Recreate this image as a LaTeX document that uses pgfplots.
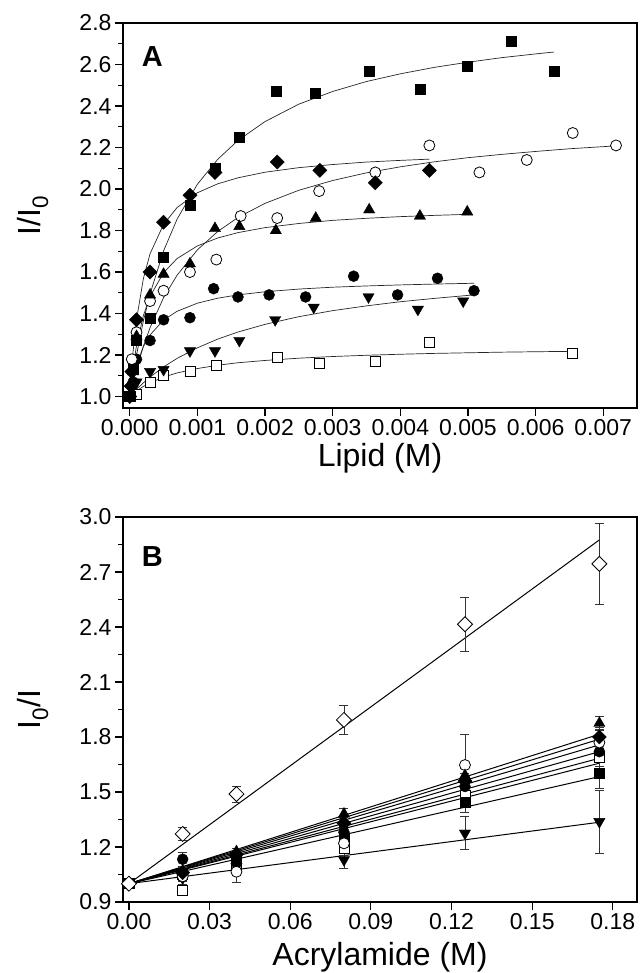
\documentclass[border=0pt]{standalone}
\usepackage{fontspec}
\setmainfont{Liberation Sans}
\usepackage{pgfplots}
\pgfplotsset{compat=1.18}

\pgfplotsset{
  common/.style={
    width=514pt, height=385pt, scale only axis,
    axis line style={line width=1.5pt},
    tick style={line width=1.2pt, black},
    tick align=outside,
    major tick length=8pt, minor tick length=5pt,
    xtick pos=bottom, ytick pos=left,
    ticklabel style={font=\fontsize{23}{27}\selectfont},
    label style={font=\fontsize{32}{38}\selectfont},
    /pgf/number format/assume math mode=true,
    scaled x ticks=false, scaled y ticks=false,
    clip=false,
  },
  fit/.style={no marks, line width=0.7pt, black!85},
  bfit/.style={no marks, line width=1pt, black},
  fsq/.style={only marks, mark=square*, mark size=5pt, mark options={fill=black, draw=black}},
  osq/.style={only marks, mark=square*, mark size=5pt, mark options={fill=white, draw=black, line width=0.8pt}},
  fdi/.style={only marks, mark=square*, mark size=5pt, mark options={fill=black, draw=black, rotate=45}},
  odi/.style={only marks, mark=square*, mark size=5.3pt, mark options={fill=white, draw=black, line width=0.8pt, rotate=45}},
  fci/.style={only marks, mark=*, mark size=5.5pt, mark options={fill=black, draw=black}},
  oci/.style={only marks, mark=*, mark size=5.5pt, mark options={fill=white, draw=black, line width=0.8pt}},
  ftu/.style={only marks, mark=triangle*, mark size=6.5pt, mark options={fill=black, draw=black}},
  ftd/.style={only marks, mark=triangle*, mark size=6.5pt, mark options={fill=black, draw=black, rotate=180}},
  eb/.style={error bars/.cd, y dir=both, y explicit,
    error bar style={line width=0.7pt, black!80},
    error mark options={rotate=90, mark size=4.5pt, line width=0.7pt, black!80}},
}

\begin{document}
\begin{tikzpicture}
\path[use as bounding box] (0,0) rectangle (639pt,973pt);

% ---------------- Panel A ----------------
\begin{axis}[common,
  at={(123pt,565pt)}, anchor=south west,
  xmin=-0.0001, xmax=0.0075, ymin=0.945, ymax=2.8,
  xtick={0,0.001,...,0.0071},
  ytick={1.0,1.2,...,2.81},
  minor y tick num=1,
  xticklabel style={/pgf/number format/.cd, fixed, fixed zerofill, precision=3},
  yticklabel style={/pgf/number format/.cd, fixed, fixed zerofill, precision=1},
  xlabel={Lipid (M)}, ylabel={I/I\textsubscript{0}},
  xlabel style={at={(axis description cs:0.5,-0.13)}, anchor=center},
  ylabel style={at={(axis description cs:-0.175,0.5)}, anchor=center},
]
\node[font=\bfseries\fontsize{29}{33}\selectfont] at (axis description cs:0.057,0.912) {A};

% fit curves
\addplot[fit] coordinates {(0,1) (0.00005,1.106) (0.0001,1.200) (0.0002,1.362) (0.0003,1.495) (0.0005,1.702) (0.0007,1.855) (0.001,2.023) (0.0013,2.143) (0.0016,2.234) (0.002,2.325) (0.0025,2.409) (0.003,2.470) (0.0035,2.518) (0.004,2.555) (0.0045,2.586) (0.005,2.611) (0.0055,2.633) (0.006,2.651) (0.00627,2.660)};
\addplot[fit] coordinates {(0,1) (0.00005,1.219) (0.0001,1.371) (0.0002,1.567) (0.0003,1.688) (0.0005,1.830) (0.0007,1.911) (0.001,1.982) (0.0013,2.025) (0.0016,2.054) (0.002,2.081) (0.0025,2.103) (0.003,2.118) (0.0035,2.130) (0.004,2.138) (0.00443,2.144)};
\addplot[fit] coordinates {(0,1) (0.00005,1.070) (0.0001,1.132) (0.0002,1.241) (0.0003,1.332) (0.0005,1.477) (0.0007,1.585) (0.001,1.707) (0.0013,1.795) (0.0016,1.863) (0.002,1.931) (0.0025,1.994) (0.003,2.041) (0.0035,2.078) (0.004,2.107) (0.0045,2.131) (0.005,2.151) (0.0055,2.167) (0.006,2.181) (0.0065,2.194) (0.00719,2.208)};
\addplot[fit] coordinates {(0,1) (0.00005,1.142) (0.0001,1.246) (0.0002,1.389) (0.0003,1.483) (0.0005,1.597) (0.0007,1.665) (0.001,1.726) (0.0013,1.764) (0.0016,1.790) (0.002,1.814) (0.0025,1.834) (0.003,1.849) (0.0035,1.859) (0.004,1.867) (0.0045,1.873) (0.00499,1.878)};
\addplot[fit] coordinates {(0,1) (0.00005,1.087) (0.0001,1.151) (0.0002,1.240) (0.0003,1.297) (0.0005,1.369) (0.0007,1.411) (0.001,1.450) (0.0013,1.474) (0.0016,1.490) (0.002,1.505) (0.0025,1.518) (0.003,1.527) (0.0035,1.533) (0.004,1.538) (0.0045,1.542) (0.00509,1.546)};
\addplot[fit] coordinates {(0,1) (0.00005,1.018) (0.0001,1.035) (0.0002,1.066) (0.0003,1.094) (0.0005,1.143) (0.0007,1.184) (0.001,1.235) (0.0013,1.277) (0.0016,1.311) (0.002,1.348) (0.0025,1.385) (0.003,1.414) (0.0035,1.437) (0.004,1.457) (0.0045,1.473) (0.00509,1.490)};
\addplot[fit] coordinates {(0,1) (0.00005,1.014) (0.0001,1.027) (0.0002,1.049) (0.0003,1.066) (0.0005,1.094) (0.0007,1.114) (0.001,1.135) (0.0013,1.151) (0.0016,1.163) (0.002,1.174) (0.0025,1.185) (0.003,1.193) (0.0035,1.199) (0.004,1.204) (0.0045,1.208) (0.005,1.211) (0.0055,1.214) (0.006,1.216) (0.00655,1.218)};

% data
\addplot[osq] coordinates {(0,1.0) (0.0001,1.01) (0.0003,1.07) (0.0005,1.10) (0.00089,1.12) (0.00128,1.15) (0.00218,1.19) (0.00281,1.16) (0.00363,1.17) (0.00443,1.26) (0.00655,1.21)};
\addplot[ftd] coordinates {(0,1.0) (0.00005,1.05) (0.0001,1.07) (0.0003,1.12) (0.0005,1.13) (0.00089,1.22) (0.00126,1.22) (0.00162,1.27) (0.00215,1.37) (0.00272,1.43) (0.00353,1.48) (0.00426,1.42) (0.00493,1.46)};
\addplot[fci] coordinates {(0,1.0) (0.00005,1.07) (0.0001,1.18) (0.0003,1.27) (0.0005,1.37) (0.00089,1.38) (0.00124,1.52) (0.0016,1.48) (0.00206,1.49) (0.0026,1.48) (0.00331,1.58) (0.00396,1.49) (0.00455,1.57) (0.00509,1.51)};
\addplot[oci] coordinates {(0,1.0) (0.00003,1.18) (0.0001,1.31) (0.0003,1.46) (0.0005,1.51) (0.00089,1.60) (0.00128,1.66) (0.00164,1.87) (0.00218,1.86) (0.0028,1.99) (0.00363,2.08) (0.00443,2.21) (0.00517,2.08) (0.00587,2.14) (0.00655,2.27) (0.00719,2.21)};
\addplot[ftu] coordinates {(0,1.0) (0.00005,1.12) (0.0001,1.29) (0.0003,1.49) (0.0005,1.59) (0.00089,1.64) (0.00126,1.81) (0.00162,1.82) (0.00216,1.80) (0.00275,1.86) (0.00354,1.90) (0.00429,1.87) (0.00499,1.89)};
\addplot[fsq] coordinates {(0,1.0) (0.00005,1.13) (0.0001,1.27) (0.0003,1.38) (0.0005,1.67) (0.00089,1.92) (0.00126,2.10) (0.00162,2.25) (0.00216,2.47) (0.00274,2.46) (0.00354,2.57) (0.00429,2.48) (0.00499,2.59) (0.00564,2.71) (0.00627,2.57)};
\addplot[fdi] coordinates {(0,1.0) (0.00002,1.05) (0.00003,1.12) (0.0001,1.37) (0.0003,1.60) (0.0005,1.84) (0.00089,1.97) (0.00126,2.08) (0.00218,2.13) (0.00281,2.09) (0.00363,2.03) (0.00443,2.09)};
\end{axis}

% ---------------- Panel B ----------------
\begin{axis}[common,
  at={(123pt,71pt)}, anchor=south west,
  xmin=-0.0022, xmax=0.189, ymin=0.9, ymax=3.0,
  xtick={0,0.03,...,0.181},
  ytick={0.9,1.2,...,3.01},
  minor y tick num=1,
  xticklabel style={/pgf/number format/.cd, fixed, fixed zerofill, precision=2},
  yticklabel style={/pgf/number format/.cd, fixed, fixed zerofill, precision=1},
  xlabel={Acrylamide (M)}, ylabel={I\textsubscript{0}/I},
  xlabel style={at={(axis description cs:0.5,-0.143)}, anchor=center},
  ylabel style={at={(axis description cs:-0.175,0.5)}, anchor=center},
]
\node[font=\bfseries\fontsize{29}{33}\selectfont] at (axis description cs:0.057,0.898) {B};

% fit lines
\addplot[bfit] coordinates {(0,1) (0.175,2.875)};
\addplot[bfit] coordinates {(0,1) (0.175,1.815)};
\addplot[bfit] coordinates {(0,1) (0.175,1.788)};
\addplot[bfit] coordinates {(0,1) (0.175,1.757)};
\addplot[bfit] coordinates {(0,1) (0.175,1.720)};
\addplot[bfit] coordinates {(0,1) (0.175,1.684)};
\addplot[bfit] coordinates {(0,1) (0.175,1.657)};
\addplot[bfit] coordinates {(0,1) (0.175,1.584)};
\addplot[bfit] coordinates {(0,1) (0.175,1.335)};

% data with error bars
\addplot[osq, eb] coordinates {(0,1.0) +- (0,0.01) (0.02,0.965) +- (0,0.03) (0.04,1.10) +- (0,0.03) (0.08,1.195) +- (0,0.04) (0.125,1.484) +- (0,0.05) (0.175,1.69) +- (0,0.05)};
\addplot[ftd, eb] coordinates {(0,1.0) +- (0,0.01) (0.02,1.03) +- (0,0.02) (0.04,1.093) +- (0,0.03) (0.08,1.13) +- (0,0.045) (0.125,1.275) +- (0,0.09) (0.175,1.338) +- (0,0.17)};
\addplot[fsq, eb] coordinates {(0,1.0) +- (0,0.01) (0.02,1.05) +- (0,0.02) (0.04,1.13) +- (0,0.03) (0.08,1.25) +- (0,0.03) (0.125,1.447) +- (0,0.06) (0.175,1.602) +- (0,0.08)};
\addplot[fci, eb] coordinates {(0,1.0) +- (0,0.01) (0.02,1.133) +- (0,0.04) (0.04,1.15) +- (0,0.02) (0.08,1.28) +- (0,0.03) (0.125,1.53) +- (0,0.04) (0.175,1.72) +- (0,0.05)};
\addplot[oci, eb] coordinates {(0,1.0) +- (0,0.01) (0.02,1.04) +- (0,0.02) (0.04,1.065) +- (0,0.06) (0.08,1.22) +- (0,0.05) (0.125,1.647) +- (0,0.17) (0.175,1.77) +- (0,0.08)};
\addplot[fdi, eb] coordinates {(0,1.0) +- (0,0.01) (0.02,1.06) +- (0,0.02) (0.04,1.16) +- (0,0.02) (0.08,1.33) +- (0,0.03) (0.125,1.56) +- (0,0.04) (0.175,1.80) +- (0,0.04)};
\addplot[ftu, eb] coordinates {(0,1.0) +- (0,0.01) (0.02,1.07) +- (0,0.02) (0.04,1.175) +- (0,0.02) (0.08,1.38) +- (0,0.03) (0.125,1.59) +- (0,0.04) (0.175,1.875) +- (0,0.04)};
\addplot[odi, eb] coordinates {(0,1.0) +- (0,0.01) (0.02,1.271) +- (0,0.035) (0.04,1.489) +- (0,0.043) (0.08,1.893) +- (0,0.077) (0.125,2.415) +- (0,0.148) (0.175,2.744) +- (0,0.223)};
\end{axis}
\end{tikzpicture}
\end{document}
